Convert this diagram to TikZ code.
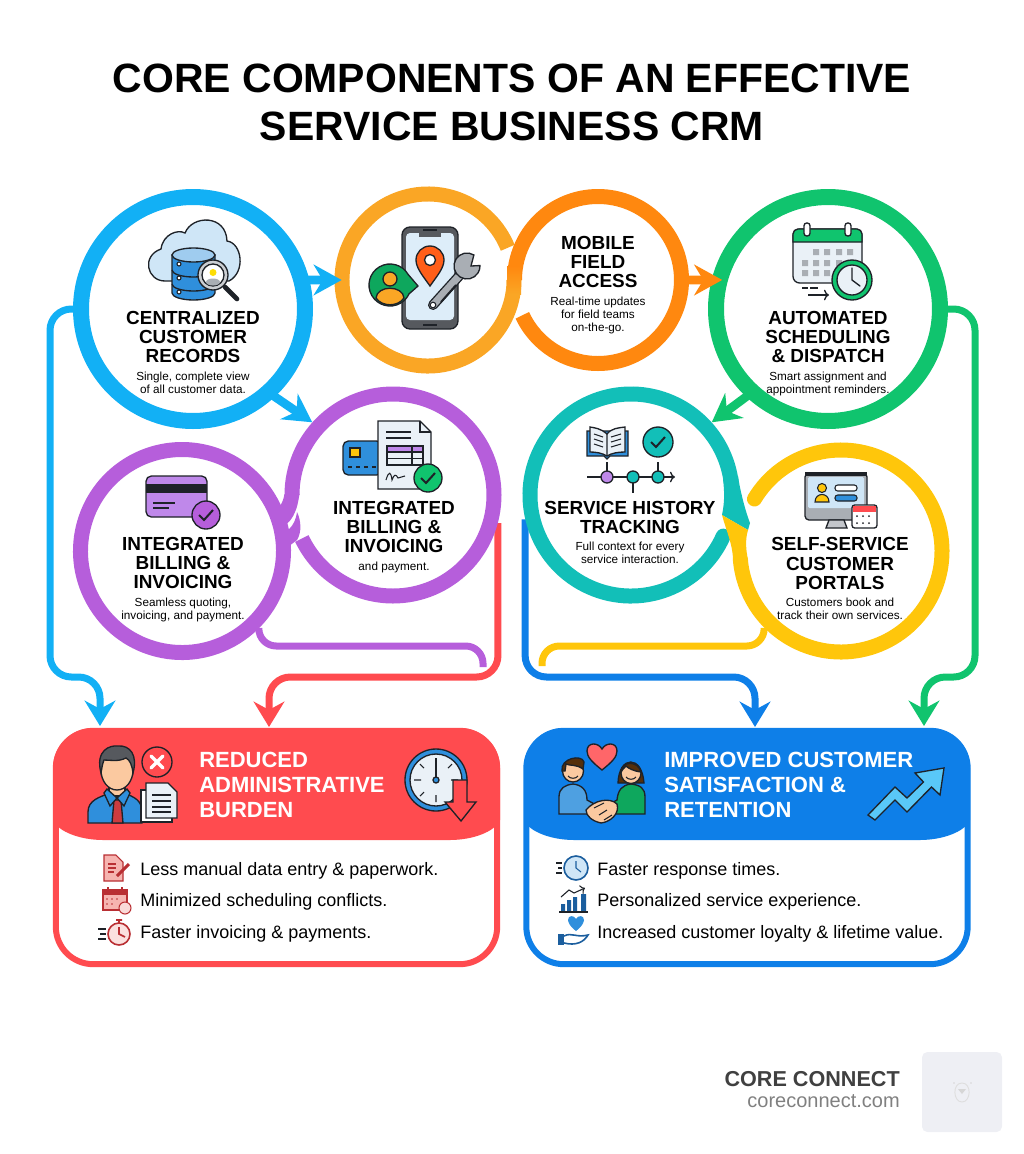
\documentclass[tikz,border=0pt]{standalone}
\usepackage{fontspec}
\setmainfont{Liberation Sans}
\usepackage{xcolor}
\usepackage{tikz}
\usetikzlibrary{arrows.meta,positioning}

\definecolor{crmblue}{HTML}{12B0F5}
\definecolor{phoneorange}{HTML}{FAA625}
\definecolor{mobileorange}{HTML}{FF880F}
\definecolor{schedgreen}{HTML}{10C46E}
\definecolor{billpurple}{HTML}{B65EDB}
\definecolor{histteal}{HTML}{12BFB8}
\definecolor{portalyellow}{HTML}{FFC60B}
\definecolor{burdenred}{HTML}{FF4B4F}
\definecolor{retainblue}{HTML}{0E7FE8}
\definecolor{iconline}{HTML}{1E2228}
\definecolor{skin}{HTML}{FBC9A0}
\definecolor{sheet}{HTML}{EAF1F7}
\definecolor{softblue}{HTML}{CFE6F7}
\definecolor{midblue}{HTML}{2F8FDC}
\definecolor{softpurple}{HTML}{BF88EA}
\definecolor{softgray}{HTML}{A9AEB4}
\definecolor{pink}{HTML}{F6B4B0}
\definecolor{darkred}{HTML}{B92F33}
\definecolor{navy}{HTML}{1B5E9E}
\definecolor{logogray}{HTML}{EEEFF4}

\begin{document}
\begin{tikzpicture}[
    x=0.75pt, y=0.75pt,
    ringnode/.style={circle, inner sep=0pt, outer sep=0pt},
    band/.style={line width=11.25pt},
    bigband/.style={line width=12pt},
    link/.style={line width=5.25pt, rounded corners=16pt, -{Stealth[length=19pt,width=23pt]}},
    plainlink/.style={line width=5.25pt, rounded corners=13pt},
    jump/.style={line width=6.5pt, -{Stealth[length=21pt,width=23pt]}},
    ctitle/.style={inner sep=0pt, align=center, font=\bfseries\fontsize{14.2pt}{14.5pt}\selectfont},
    cdesc/.style={inner sep=0pt, align=center, below=6pt of #1, font=\fontsize{8.8pt}{9.75pt}\selectfont},
    boxhead/.style={inner sep=0pt, anchor=west, align=left, text=white, font=\bfseries\fontsize{16.5pt}{18.75pt}\selectfont},
    bullet/.style={inner sep=0pt, anchor=base west, font=\fontsize{13.5pt}{15pt}\selectfont},
    outbox/.style={rectangle, inner sep=0pt, minimum width=331pt, minimum height=175pt, fill=white, line width=4.5pt, rounded corners=28pt},
    icon/.style={draw=iconline, line width=1pt},
    tiny/.style={line width=0.8pt}
]
    \useasboundingbox (0,0) rectangle (1024,-1154);

    \node[inner sep=0pt, align=center, font=\bfseries\fontsize{30.7pt}{36pt}\selectfont] (maintitle) at (512,-102) {CORE COMPONENTS OF AN EFFECTIVE\\SERVICE BUSINESS CRM};

    \node[ringnode, minimum size=180pt] (crm) at (193,-309) {};
    \node[ringnode, minimum size=139.5pt] (phone) at (428,-280) {};
    \node[ringnode, minimum size=136.5pt] (mobile) at (598,-280) {};
    \node[ringnode, minimum size=180pt] (sched) at (828,-309) {};
    \node[ringnode, minimum size=163pt] (card) at (182,-551) {};
    \node[ringnode, minimum size=163pt] (bill) at (393,-495) {};
    \node[ringnode, minimum size=163pt] (hist) at (631,-495) {};
    \node[ringnode, minimum size=163pt] (portal) at (841,-551) {};

    \node[outbox, draw=burdenred] (burden) at (276.5,-847.5) {};
    \node[outbox, draw=retainblue] (retain) at (747,-847.5) {};

    \coordinate (bluerail) at (50,-309);
    \coordinate (blueturn) at (100,-677);
    \coordinate (bluein) at (100,-726);
    \coordinate (redturn) at (269,-677);
    \coordinate (redin) at (269,-727);
    \coordinate (deepturn) at (755,-677);
    \coordinate (deepin) at (755,-727);
    \coordinate (greenrail) at (975,-309);
    \coordinate (greenturn) at (924,-677);
    \coordinate (greenin) at (924,-726);
    \coordinate (purpleturn) at (483,-646);
    \coordinate (purpleend) at (483,-667);
    \coordinate (yellowturn) at (542,-646);
    \coordinate (yellowend) at (542,-666);

    \draw[plainlink, billpurple] (card.-45) |- (purpleturn) -- (purpleend);
    \draw[plainlink, portalyellow] (portal.-135) |- (yellowturn) -- (yellowend);
    \draw[link, crmblue] (crm.west) -- (bluerail) |- (blueturn) -- (bluein);
    \draw[link, burdenred] (bill.-15) |- (redturn) -- (redin);
    \draw[link, retainblue] (hist.193) |- (deepturn) -- (deepin);
    \draw[link, schedgreen] (sched.east) -- (greenrail) |- (greenturn) -- (greenin);

    \draw[bigband, crmblue] (crm) circle (112);
    \draw[bigband, schedgreen] (sched) circle (112);
    \draw[band, phoneorange] ([shift={(22:86)}]phone.center) arc[start angle=22, end angle=360, radius=86];
    \draw[band, mobileorange] ([shift={(180:83.5)}]mobile.center) arc[start angle=180, end angle=-155, radius=83.5];
    \shade[top color=mobileorange, bottom color=phoneorange] (507,-266) rectangle (521,-294);

    \draw[band, billpurple] ([shift={(29:101.5)}]card.center) arc[start angle=29, end angle=-355, radius=101.5];
    \draw[band, billpurple] ([shift={(180:101)}]bill.center) arc[start angle=180, end angle=-154.5, radius=101];
    \fill[billpurple] (299.5,-494) .. controls (298,-503) and (297,-508) .. (295,-512) .. controls (291,-522) and (284,-528) .. (275,-528) .. controls (272,-526) and (272,-518) .. (275,-513) .. controls (279,-508) and (283,-503) .. (284.5,-494) -- cycle;
    \fill[billpurple] (276,-545) -- (276,-534) .. controls (286,-534) and (295,-527) .. (297,-512) .. controls (301,-520) and (302,-532) .. (297,-540) -- (290.5,-545) -- cycle;

    \draw[band, histteal, line cap=round] ([shift={(-24:101)}]hist.center) arc[start angle=-24, end angle=-352, radius=101];
    \draw[band, portalyellow, line cap=round] ([shift={(149:101)}]portal.center) arc[start angle=149, end angle=-175, radius=101];
    \fill[histteal] (723,-479) .. controls (725,-495) and (724,-505) .. (722,-515) -- (748,-530) -- (750,-523) .. controls (745,-510) and (740,-490) .. (738,-476) -- cycle;
    \fill[portalyellow] (722,-515) -- (748,-530) .. controls (745,-540) and (746,-550) .. (748,-560) -- (733,-560) .. controls (733,-545) and (726,-530) .. (722,-515) -- cycle;

    \draw[jump, crmblue, shorten <=-9pt, shorten >=-5pt] (crm.14) -- (phone.west);
    \draw[jump, crmblue, shorten <=-9pt] (crm.-47) -- (bill.138);
    \draw[jump, mobileorange, shorten >=-8pt] (mobile.east) -- (sched.166);
    \draw[jump, schedgreen, shorten <=-9pt] (sched.-133) -- (hist.42);

    \fill[burdenred] (53,-820) -- (53,-768) arc[start angle=180, end angle=90, radius=40] -- (460,-728) arc[start angle=90, end angle=0, radius=40] -- (500,-820) .. controls (495,-832) and (472,-840) .. (450,-840) -- (103,-840) .. controls (81,-840) and (58,-832) .. (53,-820) -- cycle;
    \fill[retainblue] (524,-820) -- (524,-768) arc[start angle=180, end angle=90, radius=40] -- (930,-728) arc[start angle=90, end angle=0, radius=40] -- (970,-820) .. controls (965,-832) and (942,-840) .. (920,-840) -- (574,-840) .. controls (552,-840) and (529,-832) .. (524,-820) -- cycle;

    \node[ctitle] (crmtitle) at (193,-337) {CENTRALIZED\\CUSTOMER\\RECORDS};
    \node[cdesc=crmtitle] (crmdesc) {Single, complete view\\of all customer data.};
    \node[ctitle] (mobiletitle) at (598,-262) {MOBILE\\FIELD\\ACCESS};
    \node[cdesc=mobiletitle] (mobiledesc) {Real-time updates\\for field teams\\on-the-go.};
    \node[ctitle] (schedtitle) at (828,-337) {AUTOMATED\\SCHEDULING\\\& DISPATCH};
    \node[cdesc=schedtitle] (scheddesc) {Smart assignment and\\appointment reminders.};
    \node[ctitle] (cardtitle) at (183,-563) {INTEGRATED\\BILLING \&\\INVOICING};
    \node[cdesc=cardtitle] (carddesc) {Seamless quoting,\\invoicing, and payment.};
    \node[ctitle] (billtitle) at (394,-527) {INTEGRATED\\BILLING \&\\INVOICING};
    \node[cdesc=billtitle] (billdesc) {and payment.};
    \node[ctitle] (histtitle) at (630,-517.5) {SERVICE HISTORY\\TRACKING};
    \node[cdesc=histtitle] (histdesc) {Full context for every\\service interaction.};
    \node[ctitle] (portaltitle) at (840,-563.5) {SELF-SERVICE\\CUSTOMER\\PORTALS};
    \node[cdesc=portaltitle] (portaldesc) {Customers book and\\track their own services.};

    \node[boxhead] (burdenhead) at (199,-785) {REDUCED\\ADMINISTRATIVE\\BURDEN};
    \node[boxhead] (retainhead) at (664,-785) {IMPROVED CUSTOMER\\SATISFACTION \&\\RETENTION};

    \node[bullet] (burdenone) at (140,-875) {Less manual data entry \& paperwork.};
    \node[bullet] (burdentwo) at (140,-906.5) {Minimized scheduling conflicts.};
    \node[bullet] (burdenthree) at (140,-938) {Faster invoicing \& payments.};
    \node[bullet] (retainone) at (597,-875) {Faster response times.};
    \node[bullet] (retaintwo) at (597,-906.5) {Personalized service experience.};
    \node[bullet] (retainthree) at (597,-938) {Increased customer loyalty \& lifetime value.};

    \node[inner sep=0pt, anchor=base east, text=black!75, font=\bfseries\fontsize{16.2pt}{18pt}\selectfont] (brand) at (900,-1086) {CORE CONNECT};
    \node[inner sep=0pt, anchor=base east, text=black!50, font=\fontsize{15pt}{18pt}\selectfont] (brandurl) at (900,-1107) {coreconnect.com};
    \node[rectangle, inner sep=0pt, minimum size=60pt, fill=logogray, rounded corners=4pt] (logo) at (962,-1092) {};
    \draw[black!13, line width=0.7pt] (962,-1083) .. controls (952,-1083) and (953,-1102) .. (962,-1102) .. controls (971,-1102) and (972,-1083) .. (962,-1083) -- cycle;
    \fill[black!16] (958,-1089) -- (966,-1089) -- (962,-1094) -- cycle (954,-1083) circle (0.8) (971,-1083) circle (0.8);

    \draw[icon, fill=softblue] (165,-281) .. controls (147,-281) and (141,-256) .. (161,-249) .. controls (163,-234) and (178,-229) .. (185,-233) .. controls (192,-215) and (226,-214) .. (227,-241) .. controls (242,-243) and (246,-272) .. (229,-281) -- cycle;
    \draw[icon, fill=midblue] (172,-255) -- (172,-293) arc[x radius=21.5, y radius=7, start angle=180, end angle=360] -- (215,-255) -- cycle;
    \draw[icon, fill=softblue!70!midblue] (193.5,-255) ellipse [x radius=21.5, y radius=7];
    \draw[icon] (172,-270) arc[x radius=21.5, y radius=7, start angle=180, end angle=360] (172,-284) arc[x radius=21.5, y radius=7, start angle=180, end angle=360];
    \draw[icon, fill=white, tiny] (179,-264) circle (2) (179,-278) circle (2) (179,-292) circle (2);
    \draw[iconline, line width=3.5pt, line cap=round] (225,-287) -- (237,-299);
    \draw[icon, fill=softgray!60] (213,-275) circle (15);
    \draw[icon, fill=white] (213,-275) circle (11);
    \fill[yellow!80!orange] (213,-272.5) circle (3.5);
    \fill[softgray] (213,-282) ellipse [x radius=7, y radius=3.5];

    \draw[icon, fill=iconline!75, rounded corners=6pt] (402,-227) rectangle (458,-329);
    \fill[softblue!70, rounded corners=3pt] (406,-233) rectangle (454,-320);
    \fill[iconline!75] (419,-232) rectangle (441,-237);
    \draw[iconline, tiny] (423,-230) -- (437,-230) (423,-325) -- (437,-325);
    \draw[icon, fill=orange!60!red!90] (430,-286) .. controls (423,-276) and (416,-268) .. (416,-260) arc[radius=14, start angle=180, end angle=0] .. controls (444,-268) and (437,-276) .. (430,-286) -- cycle;
    \draw[icon, fill=white] (430,-260) circle (5.5);
    \draw[icon, fill=schedgreen!85!black] ([shift={(30:21)}]390,-285) arc[start angle=30, end angle=335, radius=21] -- (418,-286) -- cycle;
    \draw[icon, fill=phoneorange] (390,-279) circle (7);
    \draw[icon, fill=phoneorange] (376,-298) .. controls (377,-285) and (403,-285) .. (404,-298) .. controls (398,-307) and (382,-307) .. (376,-298) -- cycle;
    \draw[iconline, line width=7.5pt, line cap=round] (433,-305) -- (460,-275);
    \draw[softgray, line width=5.5pt, line cap=round] (433,-305) -- (460,-275);
    \draw[icon, fill=softgray] ([shift={(58:13)}]467,-266) arc[start angle=58, end angle=362, radius=13] -- (471,-266) -- cycle;
    \draw[icon, fill=white, tiny] (433,-305) circle (2.8);
    \draw[iconline, line width=1.4pt] (441,-302) -- (456,-285);

    \draw[icon, fill=sheet, rounded corners=5pt] (793,-229) rectangle (862,-283);
    \draw[icon, fill=schedgreen] (793,-242) -- (793,-234) arc[start angle=180, end angle=90, radius=5] -- (857,-229) arc[start angle=90, end angle=0, radius=5] -- (862,-242) -- cycle;
    \draw[icon, fill=white, rounded corners=2pt] (804,-223) rectangle (810,-236) (845,-223) rectangle (851,-236);
    \fill[softgray] (813,-249) rectangle (819,-255) (824,-249) rectangle (830,-255) (836,-249) rectangle (842,-255) (847,-249) rectangle (853,-255);
    \fill[softgray] (802,-260) rectangle (808,-266) (813,-260) rectangle (819,-266) (824,-260) rectangle (830,-266) (836,-260) rectangle (842,-266);
    \fill[softgray] (802,-270) rectangle (808,-276) (813,-270) rectangle (819,-276) (824,-270) rectangle (830,-276);
    \draw[icon, fill=schedgreen] (852,-280) circle (20);
    \draw[icon, fill=sheet] (852,-280) circle (15);
    \draw[icon, line cap=round] (852,-268) -- (852,-280) -- (860,-286);
    \draw[icon] (802,-288) -- (808,-288) (810,-288) -- (818,-288);
    \draw[icon, ->] (808,-295) -- (829,-295);

    \draw[icon, fill=softpurple, rounded corners=4pt] (146,-476) rectangle (207,-517);
    \fill[iconline] (146,-484) rectangle (207,-493);
    \draw[iconline, tiny] (153,-503) -- (175,-503) (153,-508) -- (169,-508);
    \draw[icon, fill=billpurple] (206,-515) circle (14);
    \draw[iconline, line width=1.5pt] (199,-515) -- (204,-520) -- (213,-510);

    \draw[icon, fill=midblue, rounded corners=4pt] (343,-441) rectangle (382,-475);
    \draw[icon, fill=portalyellow, tiny] (350,-448) rectangle (360,-457);
    \draw[iconline, tiny, dashed] (348,-467) -- (378,-467);
    \draw[icon, fill=sheet] (378,-421) -- (420,-421) -- (431,-432) -- (431,-489) -- (378,-489) -- cycle;
    \draw[icon] (420,-421) -- (420,-432) -- (431,-432);
    \draw[iconline, tiny] (386,-432) -- (411,-432) (386,-438) -- (411,-438);
    \fill[softpurple] (387,-446) rectangle (423,-452);
    \draw[iconline, tiny] (387,-446) rectangle (423,-465) (387,-452) -- (423,-452) (387,-458.5) -- (423,-458.5) (412,-446) -- (412,-465);
    \draw[iconline, tiny] (386,-480) .. controls (389,-470) and (391,-472) .. (392,-480) .. controls (394,-474) and (396,-474) .. (398,-478) -- (405,-476);
    \draw[icon, fill=schedgreen] (428,-478) circle (14);
    \draw[iconline, line width=1.5pt] (421,-478) -- (426,-483) -- (435,-473);

    \draw[icon, fill=midblue] (587,-431) -- (587,-456) -- (604,-456) -- (607,-459) -- (610,-456) -- (628,-456) -- (628,-431) -- cycle;
    \draw[icon, fill=sheet] (607,-434) .. controls (600,-428) and (595,-428) .. (590,-427) -- (590,-452) .. controls (596,-452) and (602,-453) .. (607,-456) .. controls (612,-453) and (618,-452) .. (625,-452) -- (625,-427) .. controls (618,-428) and (612,-428) .. (607,-434) -- cycle;
    \draw[iconline, tiny] (607,-434) -- (607,-456) (594,-434) -- (603,-437) (594,-439) -- (603,-442) (594,-444) -- (603,-447) (611,-437) -- (621,-434) (611,-442) -- (621,-439) (611,-447) -- (621,-444);
    \draw[icon, fill=histteal] (658,-442) circle (15);
    \draw[iconline, line width=1.5pt] (651,-442) -- (656,-447) -- (665,-437);
    \draw[icon, ->] (587,-477) -- (675,-477);
    \draw[icon] (607,-462) -- (607,-477) (633,-477) -- (633,-493) (658,-462) -- (658,-477);
    \draw[icon, fill=softpurple] (607,-477) circle (6);
    \draw[icon, fill=histteal] (633,-477) circle (6) (658,-477) circle (6);

    \draw[icon, fill=softgray, rounded corners=3pt] (805,-473) rectangle (867,-520);
    \fill[softblue, rounded corners=1pt] (808,-477) rectangle (864,-508);
    \draw[iconline, line width=3pt] (805,-474) -- (867,-474);
    \draw[icon, fill=softgray!70] (829,-520) -- (844,-520) -- (847,-528) -- (826,-528) -- cycle;
    \draw[iconline, tiny, fill=portalyellow] (822,-488) circle (4.5);
    \draw[iconline, tiny, fill=portalyellow] (815,-502) .. controls (815,-492) and (829,-492) .. (829,-502) -- cycle;
    \draw[iconline, tiny, fill=white, rounded corners=2pt] (835,-485) rectangle (857,-491);
    \draw[iconline, tiny, fill=midblue, rounded corners=2pt] (835,-495) rectangle (857,-501);
    \draw[icon, fill=white, rounded corners=2pt] (852,-505) rectangle (877,-528);
    \fill[burdenred] (853,-506) rectangle (876,-512);
    \fill[iconline] (857,-516) circle (1) (863,-516) circle (1) (869,-516) circle (1) (857,-523) circle (1) (863,-523) circle (1) (869,-523) circle (1);

    \draw[icon, fill=midblue] (88,-823) -- (88,-812) .. controls (88,-800) and (100,-797) .. (110,-793) -- (124,-793) .. controls (134,-797) and (142,-800) .. (142,-812) -- (142,-823) -- cycle;
    \draw[icon, fill=skin] (109,-785) rectangle (125,-796);
    \draw[icon, fill=burdenred!80!black] (114,-800) -- (121,-800) -- (123,-823) -- (112,-823) -- cycle;
    \draw[icon, fill=midblue] (107,-789) -- (117,-798) -- (110,-806) -- (104,-793) -- cycle (127,-789) -- (117,-798) -- (124,-806) -- (130,-793) -- cycle;
    \draw[icon, fill=skin] (117,-770) ellipse [x radius=16, y radius=20];
    \draw[icon, fill=iconline!75] (101,-773) .. controls (95,-750) and (110,-745) .. (118,-746) .. controls (130,-745) and (138,-755) .. (133,-773) .. controls (132,-765) and (130,-760) .. (126,-758) .. controls (118,-762) and (110,-760) .. (104,-760) .. controls (102,-765) and (102,-768) .. (101,-773) -- cycle;
    \draw[icon, fill=burdenred] (157,-762) circle (15);
    \draw[white, line width=2.4pt, line cap=round] (151,-756) -- (163,-768) (151,-768) -- (163,-756);
    \draw[icon, fill=white] (141,-790) rectangle (172,-822);
    \draw[icon, fill=sheet] (146,-783) -- (168,-783) -- (177,-792) -- (177,-818) -- (146,-818) -- cycle;
    \draw[iconline, tiny] (152,-795) -- (171,-795) (152,-801) -- (171,-801) (152,-807) -- (171,-807) (152,-812) -- (171,-812);

    \draw[icon, fill=midblue] (436,-780) circle (31);
    \draw[icon, fill=sheet] (436,-780) circle (26);
    \draw[iconline, tiny] (436,-758) -- (436,-765) (436,-795) -- (436,-802) (414,-780) -- (421,-780) (451,-780) -- (458,-780) (420,-764) -- (424,-768) (452,-764) -- (448,-768) (420,-796) -- (424,-792);
    \draw[iconline, line width=1.2pt] (436,-758) -- (436,-780);
    \draw[icon, fill=midblue] (436,-780) circle (3);
    \draw[icon, fill=burdenred] (453,-780) -- (467,-780) -- (467,-802) -- (476,-802) -- (461,-821) -- (445,-802) -- (453,-802) -- cycle;

    \draw[icon, fill=burdenred!85!white] (602,-770) .. controls (592,-762) and (587,-757) .. (587,-751) .. controls (587,-742) and (598,-742) .. (602,-749) .. controls (606,-742) and (617,-742) .. (617,-751) .. controls (617,-757) and (612,-762) .. (602,-770) -- cycle;
    \draw[icon, fill=midblue!85!white] (559,-814) -- (559,-797) .. controls (559,-788) and (565,-785) .. (573,-784) .. controls (582,-785) and (587,-790) .. (587,-800) -- (598,-806) -- (590,-814) -- cycle;
    \draw[icon, fill=schedgreen!85!black] (645,-814) -- (645,-797) .. controls (645,-788) and (640,-785) .. (631,-784) .. controls (622,-785) and (618,-790) .. (617,-800) -- (606,-806) -- (614,-814) -- cycle;
    \draw[icon, fill=skin] (586,-810) .. controls (594,-800) and (610,-797) .. (617,-804) .. controls (620,-814) and (610,-822) .. (601,-823) .. controls (592,-821) and (586,-816) .. (586,-810) -- cycle;
    \draw[iconline, tiny] (594,-808) -- (604,-803) (599,-815) -- (607,-810) (604,-820) -- (612,-815);
    \draw[icon, fill=iconline!45!orange!55!black] (618,-783) .. controls (619,-755) and (642,-755) .. (644,-783) -- cycle;
    \draw[icon, fill=skin] (631,-773) ellipse [x radius=10, y radius=10.5];
    \draw[icon, fill=iconline!45!orange!55!black] (621,-772) .. controls (621,-761) and (638,-760) .. (641,-772) .. controls (633,-771) and (628,-768) .. (626,-766) .. controls (624,-768) and (622,-770) .. (621,-772) -- cycle;
    \draw[icon, fill=skin] (573,-771) ellipse [x radius=10.5, y radius=11];
    \draw[icon, fill=iconline!45!orange!55!black] (562,-771) .. controls (560,-758) and (582,-754) .. (584,-762) -- (583,-769) .. controls (576,-764) and (570,-766) .. (566,-764) -- (565,-771) -- cycle;
    \draw[iconline, tiny] (568,-776) .. controls (570,-779) and (576,-779) .. (578,-776) (626,-777) .. controls (628,-780) and (634,-780) .. (636,-777);

    \draw[icon, fill=crmblue!70!white] (868,-815) -- (895,-787) -- (907,-798) -- (923.5,-782) -- (915,-773) -- (944,-768) -- (940,-795) -- (931.5,-787) -- (907,-812) -- (895,-800) -- (875,-820) -- cycle;

    \draw[darkred, tiny, fill=pink] (104,-855) -- (116,-855) -- (123,-862) -- (123,-881) -- (104,-881) -- cycle;
    \draw[darkred, tiny] (108,-864) -- (116,-864) (108,-868) -- (116,-868) (108,-872) -- (114,-872);
    \draw[darkred, line width=2.2pt] (117,-876) -- (129,-864);
    \draw[darkred, tiny, fill=pink] (103,-890) rectangle (127,-910);
    \fill[darkred] (103,-890) rectangle (127,-895);
    \draw[darkred, tiny] (108,-887) -- (108,-892) (122,-887) -- (122,-892);
    \fill[darkred] (107,-899) circle (0.8) (112,-899) circle (0.8) (117,-899) circle (0.8) (107,-904) circle (0.8) (112,-904) circle (0.8);
    \draw[darkred, tiny, fill=pink!50] (125,-908) circle (6);
    \draw[darkred, line width=1.2pt, fill=pink!40] (119,-934) circle (11);
    \draw[darkred, line width=1.2pt] (116,-920) -- (122,-920) (119,-920) -- (119,-923) (119,-927) -- (119,-934) -- (125,-937);
    \draw[iconline, tiny] (98,-929) -- (106,-929) (100,-934) -- (106,-934) (98,-939) -- (106,-939);

    \draw[navy, line width=1.2pt, fill=softblue] (576,-868) circle (12);
    \draw[navy, tiny] (576,-861) -- (576,-868) -- (581,-872);
    \draw[iconline, tiny] (556,-863) -- (562,-863) (558,-868) -- (562,-868) (556,-873) -- (562,-873);
    \fill[navy] (561,-904) rectangle (565,-911) (567,-900) rectangle (571,-911) (573,-897) rectangle (577,-911) (581,-894) rectangle (586,-911);
    \draw[iconline, tiny] (559,-912) -- (588,-912);
    \draw[iconline, tiny, ->] (561,-897) -- (569,-890) -- (574,-893) -- (585,-888);
    \fill[midblue] (576,-931) .. controls (568,-925) and (568,-920) .. (568,-920) .. controls (568,-915) and (574,-915) .. (576,-919) .. controls (578,-915) and (584,-915) .. (584,-920) .. controls (584,-920) and (584,-925) .. (576,-931) -- cycle;
    \fill[navy] (558,-934) rectangle (564,-945);
    \draw[navy, line width=1.2pt] (564,-936) .. controls (572,-932) and (576,-938) .. (588,-935) .. controls (584,-942) and (576,-946) .. (564,-943);
\end{tikzpicture}
\end{document}
